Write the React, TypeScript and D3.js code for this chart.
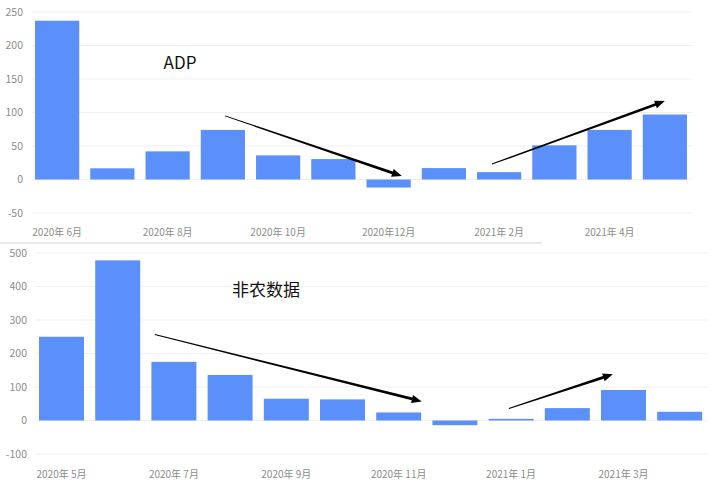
import { useMemo } from 'react';
import * as d3 from 'd3';

// ADP (万人), 2020年6月 – 2021年5月
const adpMonths = ['2020-06', '2020-07', '2020-08', '2020-09', '2020-10', '2020-11', '2020-12', '2021-01', '2021-02', '2021-03', '2021-04', '2021-05'];
const adpValues = [237, 16.7, 42, 74, 36, 30.5, -12, 17, 11, 51, 74, 97];
const adpTicks = [-50, 0, 50, 100, 150, 200, 250];
const adpLabels = ['2020年 6月', '', '2020年 8月', '', '2020年 10月', '', '2020年12月', '', '2021年 2月', '', '2021年 4月', ''];

// 非农 (万人), 2020年5月 – 2021年4月
const nfpMonths = ['2020-05', '2020-06', '2020-07', '2020-08', '2020-09', '2020-10', '2020-11', '2020-12', '2021-01', '2021-02', '2021-03', '2021-04'];
const nfpValues = [250, 478, 175, 136, 65, 63, 24, -14, 5, 37, 91, 26];
const nfpTicks = [-100, 0, 100, 200, 300, 400, 500];
const nfpLabels = ['2020年 5月', '', '2020年 7月', '', '2020年 9月', '', '2020年 11月', '', '2021年 1月', '', '2021年 3月', ''];

// trend arrows, in (band index, value) terms
const adpArrows = [
  { from: [3.04, 95], to: [6.24, 5] },
  { from: [7.87, 23], to: [11.0, 117] },
];
const nfpArrows = [
  { from: [1.66, 257], to: [6.41, 57] },
  { from: [7.96, 36], to: [9.81, 138] },
];

const BAR = '#5b8ff9';
const GRID = '#efefef';
const TICK = '#8c8c8c';
const FONT = '"Noto Sans CJK SC", "Noto Sans", sans-serif';

interface Arrow { from: number[]; to: number[] }

interface PanelProps {
  months: string[];
  values: number[];
  ticks: number[];
  labels: string[];
  arrows: Arrow[];
  title: string;
  titleX: number;
  titleY: number;
  x0: number;
  x1: number;
  yTop: number;
  yBottom: number;
  tickX: number;
  labelY: number;
}

function arrowPath(sx: number, sy: number, tx: number, ty: number) {
  const dx = tx - sx;
  const dy = ty - sy;
  const len = Math.hypot(dx, dy);
  const ux = dx / len;
  const uy = dy / len;
  const nx = -uy;
  const ny = ux;
  const head = 10;
  const hw = 4;
  const bx = tx - ux * head;
  const by = ty - uy * head;
  const w0 = 0.5;
  const w1 = 1.4;
  const pts = [
    [sx + nx * w0, sy + ny * w0],
    [bx + nx * w1, by + ny * w1],
    [bx + nx * hw, by + ny * hw],
    [tx, ty],
    [bx - nx * hw, by - ny * hw],
    [bx - nx * w1, by - ny * w1],
    [sx - nx * w0, sy - ny * w0],
  ];
  return 'M' + pts.map(p => `${p[0].toFixed(1)},${p[1].toFixed(1)}`).join('L') + 'Z';
}

function BarPanel(p: PanelProps) {
  const x = useMemo(() => d3.scaleBand<string>()
    .domain(p.months)
    .range([p.x0, p.x1])
    .paddingInner(0.2)
    .paddingOuter(0.1), [p.months, p.x0, p.x1]);

  const y = useMemo(() => d3.scaleLinear()
    .domain([p.ticks[0], p.ticks[p.ticks.length - 1]])
    .range([p.yBottom, p.yTop]), [p.ticks, p.yTop, p.yBottom]);

  const center = (i: number) => (x(p.months[0]) ?? 0) + x.bandwidth() / 2 + i * x.step();

  return (
    <g>
      {p.ticks.map(t => (
        <g key={t}>
          <line x1={p.x0 + 2} x2={p.x1} y1={y(t)} y2={y(t)} stroke={GRID} strokeWidth={1} />
          <text x={p.tickX} y={y(t)} dy="0.35em" textAnchor="end" fontSize={10.5} fill={TICK} fontFamily={FONT}>{t}</text>
        </g>
      ))}
      {p.values.map((v, i) => (
        <rect
          key={p.months[i]}
          x={x(p.months[i])}
          width={x.bandwidth()}
          y={y(Math.max(0, v))}
          height={Math.abs(y(v) - y(0))}
          fill={BAR}
        />
      ))}
      {p.labels.map((l, i) => l && (
        <text key={i} x={center(i)} y={p.labelY} dy="0.35em" textAnchor="middle" fontSize={10} fill={TICK} fontFamily={FONT}>{l}</text>
      ))}
      {p.arrows.map((a, i) => (
        <path key={i} d={arrowPath(center(a.from[0]), y(a.from[1]), center(a.to[0]), y(a.to[1]))} fill="#000" />
      ))}
      <text x={p.titleX} y={p.titleY} dy="0.35em" textAnchor="middle" fontSize={17} fill="#111" fontFamily={FONT}>{p.title}</text>
    </g>
  );
}

export default function App() {
  return (
    <svg width={720} height={487} style={{ position: 'absolute', left: 0, top: 0, background: '#fff' }}>
      <rect width={720} height={487} fill="#fff" />
      <BarPanel
        months={adpMonths} values={adpValues} ticks={adpTicks} labels={adpLabels} arrows={adpArrows}
        title="ADP" titleX={180} titleY={63}
        x0={29.5} x1={692.5} yTop={12} yBottom={213} tickX={23} labelY={232}
      />
      <line x1={0} x2={542} y1={243} y2={243} stroke="#e2e2e2" strokeWidth={1.5} />
      <BarPanel
        months={nfpMonths} values={nfpValues} ticks={nfpTicks} labels={nfpLabels} arrows={nfpArrows}
        title="非农数据" titleX={266} titleY={290}
        x0={33.4} x1={707.8} yTop={253} yBottom={454} tickX={27} labelY={474}
      />
    </svg>
  );
}
